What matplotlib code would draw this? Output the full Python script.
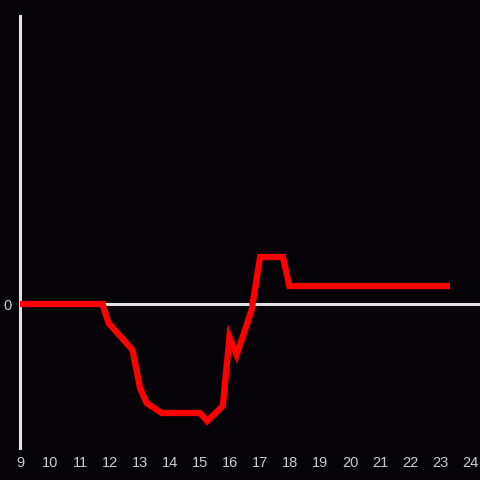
import matplotlib
matplotlib.use("Agg")
import matplotlib.pyplot as plt

# hours of the day and value (arbitrary units, 0 = baseline)
hours = [9.0, 11.75, 11.95, 12.1, 12.75, 13.0, 13.22, 13.72, 15.0, 15.24,
         15.76, 15.98, 16.22, 16.72, 17.0, 17.76, 17.98, 23.33]
values = [0, 0, -1.9, -2.4, -4.6, -8.4, -9.9, -10.9, -10.9, -11.7,
          -10.2, -3.3, -5.1, -0.6, 4.7, 4.7, 1.8, 1.8]
xticks = list(range(9, 25))

bg = "#050307"
axcol = "#e0e0e0"

fig = plt.figure(figsize=(4.8, 4.8), dpi=100, facecolor=bg)
ax = fig.add_axes([20 / 480, 32 / 480, 460 / 480, 432 / 480], facecolor=bg)

ax.plot(hours, values, color="#ff0000", lw=4.5, solid_joinstyle="miter",
        solid_capstyle="butt", zorder=3)
ax.axhline(0, color=axcol, lw=2.2, zorder=2)

ax.set_xlim(9, 24.33)
ax.set_ylim(-14.4, 28.8)

for s in ["top", "right", "bottom"]:
    ax.spines[s].set_visible(False)
ax.spines["left"].set_color(axcol)
ax.spines["left"].set_linewidth(2.2)

ax.set_xticks(xticks)
ax.set_xticklabels([str(t) for t in xticks])
ax.set_yticks([0])
ax.set_yticklabels(["0"])
ax.tick_params(length=0, colors="#cccccc", labelsize=10.5, pad=6)
for lab in ax.get_xticklabels() + ax.get_yticklabels():
    lab.set_family("Liberation Sans")

fig.savefig("out.png", dpi=100, facecolor=bg)
